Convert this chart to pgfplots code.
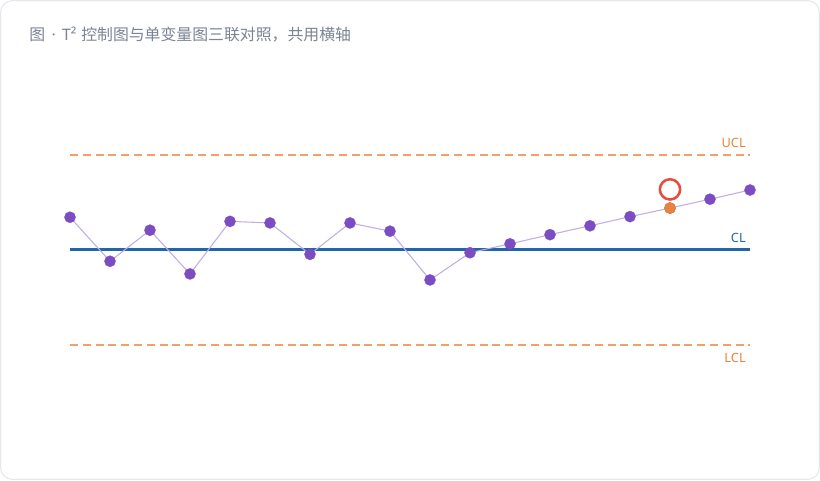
\documentclass[border=0pt]{standalone}
\usepackage{pgfplots}
\pgfplotsset{compat=1.18}
\usepackage{fontspec}
\setmainfont{Noto Sans}
\newfontfamily\cjk{Noto Sans CJK SC}
\definecolor{CardEdge}{HTML}{E3E7EE}
\definecolor{TitleGray}{HTML}{7B8494}
\definecolor{PtFill}{HTML}{7B4CC2}
\definecolor{PtLine}{HTML}{C3ADE6}
\definecolor{CLblue}{HTML}{1F66AA}
\definecolor{LimOrange}{HTML}{F0A068}
\definecolor{LimText}{HTML}{E8833A}
\definecolor{AlarmRed}{HTML}{E74C3C}

% T^2 values (CL = 0, UCL = 3, LCL = -3)
\pgfplotstableread{
i  t2
1  1.02
2  -0.37
3  0.61
4  -0.77
5  0.89
6  0.84
7  -0.15
8  0.84
9  0.58
10 -0.96
11 -0.10
12 0.18
13 0.47
14 0.75
15 1.04
16 1.31
17 1.59
18 1.88
}\tsq

\begin{document}
\begin{tikzpicture}
  \useasboundingbox (0,0) rectangle (615pt,360pt);
  \draw[CardEdge, line width=0.75pt, fill=white, rounded corners=9pt] (0.4pt,0.4pt) rectangle (614.6pt,359.6pt);
  \node[anchor=west, text=TitleGray, inner sep=0pt, font=\fontsize{11.9}{13}\selectfont] at (21.8pt,333.8pt)
    {{\cjk 图}\hspace{0.4em}·\hspace{0.4em}T²\hspace{0.3em}{\cjk 控制图与单变量图三联对照，共用横轴}};

  \begin{axis}[
      at={(52.5pt,77.85pt)}, anchor=south west,
      scale only axis,
      width=510pt, height=190pt,
      xmin=1, xmax=18, ymin=-4, ymax=4,
      axis lines=none, ticks=none,
      clip=false,
    ]
    % control limits
    \addplot[draw=LimOrange, line width=1.5pt, dash pattern=on 6pt off 3.6pt] coordinates {(1,3) (18,3)};
    \addplot[draw=LimOrange, line width=1.5pt, dash pattern=on 6pt off 3.6pt] coordinates {(1,-3) (18,-3)};
    \addplot[draw=CLblue, line width=1.6pt] coordinates {(1,0) (18,0)};

    \node[anchor=east, text=LimText, font=\fontsize{9.6}{11}\selectfont, inner sep=0pt] at (axis cs:17.9,3.37) {UCL};
    \node[anchor=east, text=CLblue, font=\fontsize{9.6}{11}\selectfont, inner sep=0pt] at (axis cs:17.9,0.38) {CL};
    \node[anchor=east, text=LimText, font=\fontsize{9.6}{11}\selectfont, inner sep=0pt] at (axis cs:17.9,-3.41) {LCL};

    % series
    \addplot[draw=PtLine, line width=0.8pt, mark=*, mark size=4.2pt,
             mark options={draw=PtFill, line width=0.2pt, fill=PtFill}] table[x=i, y=t2] {\tsq};
    % out-of-control point
    \addplot[only marks, mark=*, mark size=4.2pt, mark options={draw=LimText, line width=0.2pt, fill=LimText}] coordinates {(16,1.31)};
    \addplot[only marks, mark=o, mark size=7.6pt, mark options={draw=AlarmRed, line width=1.9pt}] coordinates {(16,1.90)};
  \end{axis}
\end{tikzpicture}
\end{document}
